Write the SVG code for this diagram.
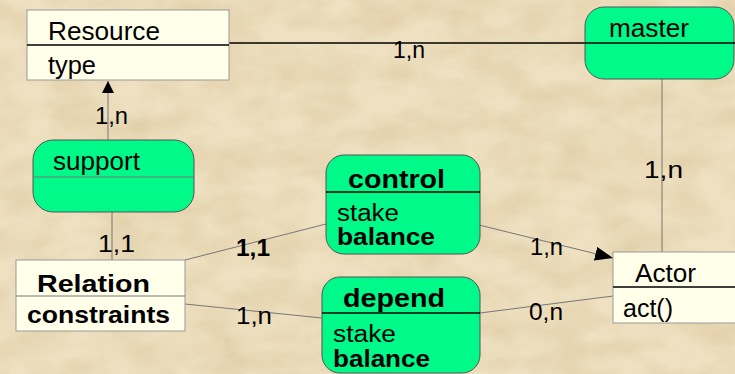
<svg xmlns="http://www.w3.org/2000/svg" width="735" height="374" viewBox="0 0 735 374">
<defs>
<filter id="parch" x="0" y="0" width="100%" height="100%">
<feTurbulence type="fractalNoise" baseFrequency="0.02 0.035" numOctaves="4" seed="7" result="n"/>
<feColorMatrix in="n" type="matrix" values="0 0 0 0 0.60  0 0 0 0 0.45  0 0 0 0 0.22  0 0 0 -1.5 1.0" result="c"/>
<feComposite in="c" in2="SourceGraphic" operator="in"/>
</filter>
<marker id="tri" viewBox="0 0 12 12" refX="12" refY="6" markerWidth="12" markerHeight="12" markerUnits="userSpaceOnUse" orient="auto">
<path d="M0,0 L12,6 L0,12 Z" fill="#000"/>
</marker>
<marker id="tri2" viewBox="0 0 18 14" refX="18" refY="7" markerWidth="18" markerHeight="14" markerUnits="userSpaceOnUse" orient="auto">
<path d="M0,0 L18,7 L0,14 Z" fill="#000"/>
</marker>
</defs>
<style>
text{font-family:"Liberation Sans",Arial,sans-serif;font-size:25px;fill:#000}
.b{font-weight:bold;font-size:24px}
.lb{font-size:23px}
.cls{fill:#FFFFEA;stroke:#999;stroke-width:1}
.grn{fill:#00FA8A;stroke:#555;stroke-width:1}
.div{stroke:#000;stroke-width:1.3}
.divg{stroke:#777;stroke-width:1}
.con{stroke:#777;stroke-width:1;fill:none}
</style>
<rect width="735" height="374" fill="#EEE0C0"/>
<rect width="735" height="374" fill="#fff" filter="url(#parch)" opacity="0.42"/>

<g id="connectors">
<line x1="229" y1="43" x2="585" y2="43" stroke="#000" stroke-width="1.3"/>
<line class="con" x1="108" y1="140" x2="108" y2="81" marker-end="url(#tri)"/>
<line class="con" x1="112" y1="212" x2="112" y2="260"/>
<line class="con" x1="662" y1="79" x2="662" y2="252"/>
<line class="con" x1="185" y1="260" x2="326" y2="224"/>
<line class="con" x1="185" y1="304" x2="322" y2="318"/>
<line class="con" x1="479" y1="225" x2="613" y2="258" marker-end="url(#tri2)"/>
<line class="con" x1="480" y1="313" x2="613" y2="296"/>
<text class="lb" x="393" y="58" textLength="32" lengthAdjust="spacingAndGlyphs">1,n</text>
<text class="lb" x="95" y="124" textLength="33" lengthAdjust="spacingAndGlyphs">1,n</text>
<text class="lb" x="98" y="252" textLength="37" lengthAdjust="spacingAndGlyphs">1,1</text>
<text class="lb" x="644" y="178" textLength="39" lengthAdjust="spacingAndGlyphs">1,n</text>
<text class="b" x="236" y="256" textLength="34" lengthAdjust="spacingAndGlyphs">1,1</text>
<text class="lb" x="236" y="324" textLength="36" lengthAdjust="spacingAndGlyphs">1,n</text>
<text class="lb" x="530" y="255" textLength="33" lengthAdjust="spacingAndGlyphs">1,n</text>
<text class="lb" x="529" y="320" textLength="34" lengthAdjust="spacingAndGlyphs">0,n</text>
</g>

<g id="resource">
<rect class="cls" x="27" y="10" width="202" height="70"/>
<line class="div" x1="27" y1="45" x2="229" y2="45"/>
<text x="48" y="40" textLength="112" lengthAdjust="spacingAndGlyphs">Resource</text>
<text x="48" y="74" textLength="48" lengthAdjust="spacingAndGlyphs">type</text>
</g>

<g id="master">
<rect class="grn" x="585" y="7" width="149" height="72" rx="19"/>
<line class="div" x1="585" y1="43" x2="735" y2="43"/>
<text x="609" y="37" textLength="80" lengthAdjust="spacingAndGlyphs">master</text>
</g>

<g id="support">
<rect class="grn" x="33" y="140" width="161" height="72" rx="20"/>
<line class="divg" x1="33" y1="177" x2="194" y2="177"/>
<text x="53" y="170" textLength="87" lengthAdjust="spacingAndGlyphs">support</text>
</g>

<g id="control">
<rect class="grn" x="326" y="155" width="154" height="99" rx="18"/>
<line class="div" x1="326" y1="192" x2="480" y2="192"/>
<text class="b" x="348" y="188" textLength="97" lengthAdjust="spacingAndGlyphs" style="font-size:26px">control</text>
<text x="337" y="221" textLength="62" lengthAdjust="spacingAndGlyphs" style="font-size:23px">stake</text>
<text class="b" x="337" y="245" textLength="98" lengthAdjust="spacingAndGlyphs" style="font-size:23px">balance</text>
</g>

<g id="relation">
<rect class="cls" x="16" y="260" width="169" height="71"/>
<line class="divg" x1="16" y1="296" x2="185" y2="296"/>
<text class="b" x="37" y="292" textLength="113" lengthAdjust="spacingAndGlyphs">Relation</text>
<text class="b" x="27" y="323" textLength="143" lengthAdjust="spacingAndGlyphs">constraints</text>
</g>

<g id="depend">
<rect class="grn" x="322" y="277" width="158" height="96" rx="18"/>
<line class="div" x1="322" y1="313" x2="480" y2="313"/>
<text class="b" x="343" y="307" textLength="102" lengthAdjust="spacingAndGlyphs" style="font-size:26px">depend</text>
<text x="333" y="342" textLength="63" lengthAdjust="spacingAndGlyphs" style="font-size:23px">stake</text>
<text class="b" x="333" y="367" textLength="97" lengthAdjust="spacingAndGlyphs" style="font-size:23px">balance</text>
</g>

<g id="actor">
<rect class="cls" x="613" y="252" width="140" height="71"/>
<line class="div" x1="613" y1="287" x2="735" y2="287"/>
<text x="635" y="282" textLength="61" lengthAdjust="spacingAndGlyphs">Actor</text>
<text x="623" y="317" textLength="50" lengthAdjust="spacingAndGlyphs">act()</text>
</g>
</svg>
